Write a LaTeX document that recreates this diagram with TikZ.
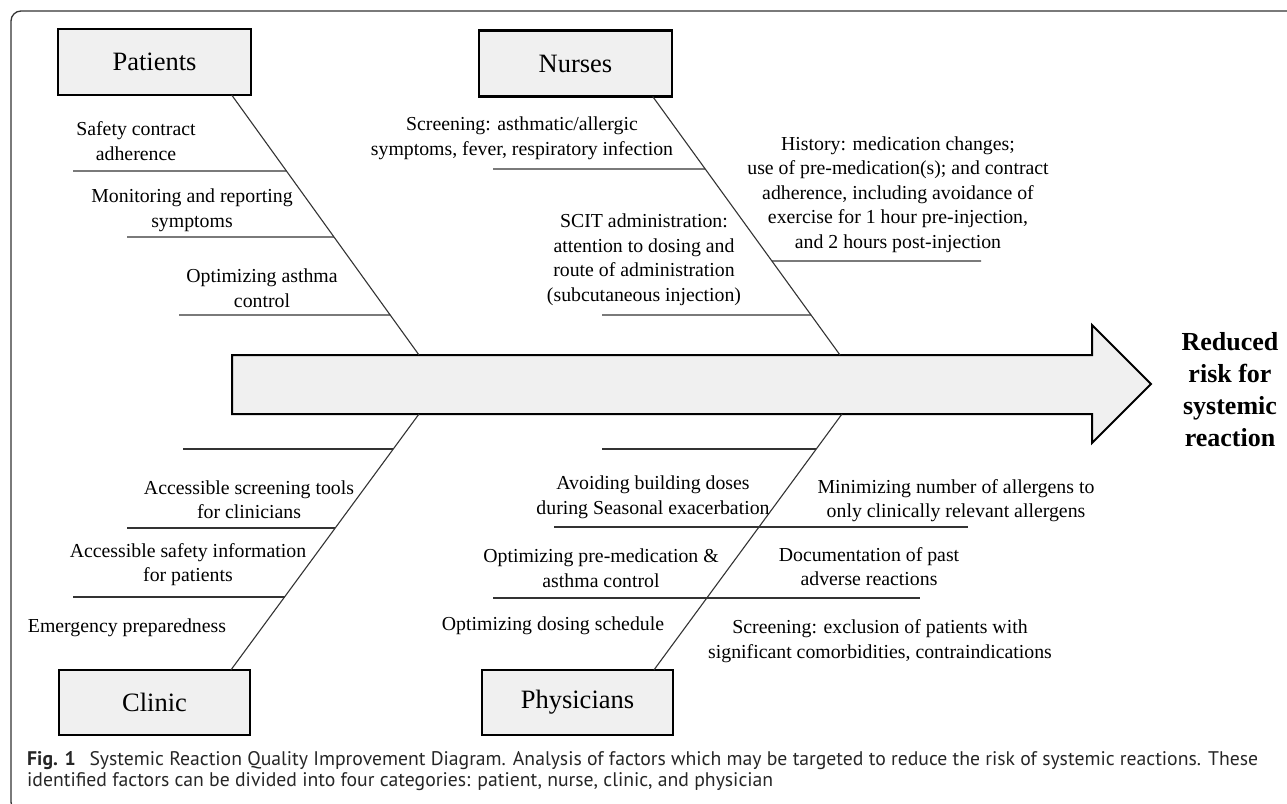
\documentclass[tikz,border=0pt]{standalone}
\usepackage{fontspec}
\setmainfont{Liberation Serif}
\newfontfamily\capfont{PT Sans}
\usetikzlibrary{calc}
\tikzset{
    catbox/.style={draw, line width=2.5pt, outer sep=0pt, fill=black!6,
    minimum width=193pt, minimum height=66pt,
    font=\fontsize{26.5}{30}\selectfont},
    cause/.style={align=center, inner sep=0pt,
    font=\fontsize{19.8}{24.5}\selectfont},
    bone/.style={draw=black!80, line width=1.1pt},
    twig/.style={draw=black!80, line width=1.4pt}
}

\begin{document}
\begin{tikzpicture}[x=1pt, y=-1pt]
    \useasboundingbox (0,0) rectangle (1287,803);
    \draw[black!80, line width=1.3pt, rounded corners=10pt]
    (1295,11) -- (11,11) -- (11,812) -- (60,812);

    % spine
    \draw[fill=black!6, line width=2pt] (232,355) -- (1092,355) -- (1092,325)
    -- (1151,384) -- (1092,443) -- (1092,414) -- (232,414) -- cycle;
    \coordinate (pe) at (419,355);
    \coordinate (ne) at (840,355);
    \coordinate (ce) at (419,414);
    \coordinate (he) at (842,414);
    \node[align=center, font=\bfseries\fontsize{26}{32}\selectfont] (goal)
    at (1230,390) {Reduced\\risk for\\systemic\\reaction};

    \node[catbox] (pat) at (154.5,62) {Patients};
    \node[catbox] (nur) at (575.5,63.5) {Nurses};
    \node[catbox, minimum width=191pt, minimum height=65pt] (cli) at (154.5,702.5) {Clinic};
    \node[catbox, minimum width=191pt, minimum height=65pt] (phy) at (577.5,702.5) {Physicians};

    \coordinate (pa) at ($(pat.south west)!0.9!(pat.south east)$);
    \coordinate (na) at ($(nur.south west)!0.9!(nur.south east)$);
    \coordinate (ca) at ($(cli.north west)!0.9!(cli.north east)$);
    \coordinate (ha) at ($(phy.north west)!0.9!(phy.north east)$);
    \foreach \a/\b in {pa/pe, na/ne, ca/ce, ha/he}{
        \draw[bone] (\a) -- (\b);
    }

    \foreach \y/\xa in {171/73, 237/127, 315/179}{
        \draw[twig] (\xa,\y) -- ($(pa)!{(\y-95)/260}!(pe)$);
    }
    \foreach \y/\xa in {169/493, 315/602}{
        \draw[twig] (\xa,\y) -- ($(na)!{(\y-96.5)/258.5}!(ne)$);
    }
    \draw[twig] ($(na)!{(261-96.5)/258.5}!(ne)$) -- (981,261);
    \foreach \y/\xa in {449/183, 528/127, 597/73}{
        \draw[twig] (\xa,\y) -- ($(ce)!{(\y-414)/256}!(ca)$);
    }
    \draw[twig] (602,449) -- ($(he)!{35/256}!(ha)$);
    \draw[twig] (554,527) -- (968,527);
    \draw[twig] (493,598) -- (920,598);

    \node[cause] (p1) at (136,141) {Safety contract\\adherence};
    \node[cause] (p2) at (192,210.5) {Monitoring and reporting\\symptoms};
    \node[cause] (p3) at (262,288) {Optimizing asthma\\control};

    \node[cause] (n1) at (522,138.5) {Screening: asthmatic/allergic\\symptoms, fever, respiratory infection};
    \node[cause] (n2) at (644,259.5) {SCIT administration:\\attention to dosing and\\route of administration\\(subcutaneous injection)};
    \node[cause] (n3) at (898,194.5) {History: medication changes;\\use of pre-medication(s); and contract\\adherence, including avoidance of\\exercise for 1 hour pre-injection,\\and 2 hours post-injection};

    \node[cause] (c1) at (249,499.5) {Accessible screening tools\\for clinicians};
    \node[cause] (c2) at (188,564.5) {Accessible safety information\\for patients};
    \node[cause] (c3) at (127,628) {Emergency preparedness};

    \node[cause] (h1) at (653,497.5) {Avoiding building doses\\during Seasonal exacerbation};
    \node[cause] (h2) at (956,500.5) {Minimizing number of allergens to\\only clinically relevant allergens};
    \node[cause] (h3) at (601,568) {Optimizing pre-medication \&\\asthma control};
    \node[cause] (h4) at (869,566.5) {Documentation of past\\adverse reactions};
    \node[cause] (h5) at (553,626) {Optimizing dosing schedule};
    \node[cause] (h6) at (880,641) {Screening: exclusion of patients with\\significant comorbidities, contraindications};

    \node[anchor=west, align=left, inner sep=0pt, text=black!85,
    font=\capfont\fontsize{19.7}{21}\selectfont] (cap) at (27,771)
    {\textbf{Fig. 1}\hspace{0.7em}Systemic Reaction Quality Improvement Diagram. Analysis of factors which may be targeted to reduce the risk of systemic reactions. These\\
    identified factors can be divided into four categories: patient, nurse, clinic, and physician};
\end{tikzpicture}
\end{document}
